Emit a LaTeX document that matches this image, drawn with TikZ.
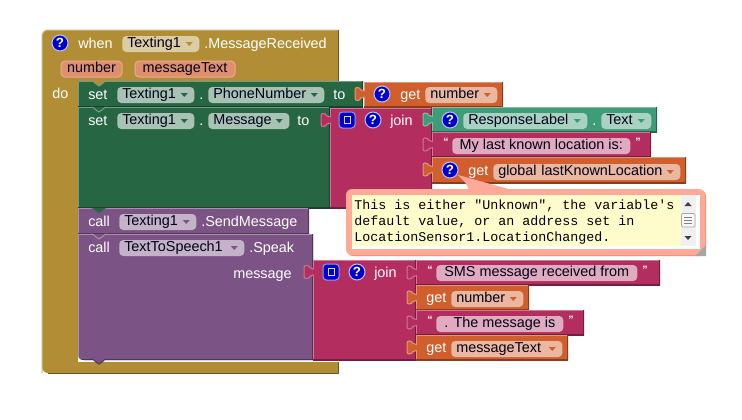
\documentclass[tikz,border=0pt]{standalone}
\usepackage{fontspec}
\setmainfont{Liberation Sans}
\setmonofont{Liberation Mono}
\usetikzlibrary{calc}
\definecolor{cBrown}{HTML}{B18E35}
\definecolor{cGreen}{HTML}{266643}
\definecolor{cTeal}{HTML}{3F9C78}
\definecolor{cOrange}{HTML}{D05F2D}
\definecolor{cPurple}{HTML}{7C5385}
\definecolor{cMagenta}{HTML}{B32D5E}
\definecolor{cBubble}{HTML}{FFA998}
\definecolor{cHelp}{HTML}{0000CC}
\definecolor{cArgFill}{HTML}{E08F6E}
\definecolor{cArgEdge}{HTML}{ECAB8F}

\begin{document}
\begin{tikzpicture}[
    x=0.75pt, y=-0.75pt,
    % ---------------------------------------------------------
    % BLOCK STYLES
    % ---------------------------------------------------------
    block/.style={
        fill=#1,
        path picture={
            \draw[#1!65!white, line width=1.5pt] (path picture bounding box.south west) -- (path picture bounding box.north west) -- (path picture bounding box.north east);
            \draw[#1!65!black, line width=1.5pt] (path picture bounding box.north east) -- (path picture bounding box.south east) -- (path picture bounding box.south west);
        }
    },
    knob/.style={
        fill=#1,
        draw=#1!65!white,
        line width=0.75pt
    },
    tabknob/.pic={
        \path[pic actions] (1,-3) -- (-3,-4) .. controls (-4,-6) and (-5,-6.5) .. (-7,-6.5) .. controls (-8.5,-6.5) and (-9,-5.5) .. (-9,-4) -- (-9,4) .. controls (-9,5.5) and (-8.5,6.5) .. (-7,6.5) .. controls (-5,6.5) and (-4,6) .. (-3,4) -- (1,3);
    },
    notch/.pic={
        \path[pic actions] (-8,0) .. controls (-6,0) and (-5,1) .. (-3,3) -- (0,5) -- (3,3) .. controls (5,1) and (6,0) .. (8,0);
    },
    % ---------------------------------------------------------
    % TEXT AND FIELD STYLES
    % ---------------------------------------------------------
    lbl/.style={
        anchor=base west,
        inner sep=0pt,
        text=white,
        font=\fontsize{10.8}{12}\selectfont
    },
    quotemark/.style={
        lbl,
        font=\fontsize{8}{9}\selectfont\bfseries
    },
    pill/.style={
        anchor=west,
        fill=#1,
        rounded corners=3pt,
        inner xsep=0pt,
        inner ysep=0pt,
        minimum height=12pt,
        text height=8pt,
        text depth=2.5pt,
        text=black!90!blue,
        font=\fontsize{10.8}{12}\selectfont
    },
    pillwide/.style={minimum width=#1*0.75pt},
    dropfield/.style 2 args={
        pill=#1,
        align=left,
        inner xsep=3.75pt,
        path picture={
            \fill[#2, sharp corners] ($(path picture bounding box.east)+(-13.5,-2)$) -- ++(7,0) -- ++(-3.5,4) -- cycle;
        }
    },
    dropwide/.style={text width={(#1-10)*0.75pt}},
    helpmark/.style={
        circle,
        fill=cHelp,
        draw=white!75!cHelp,
        line width=0.75pt,
        minimum size=12pt,
        inner sep=0pt,
        text=white,
        font=\fontsize{10}{10}\selectfont\bfseries
    },
    mutator/.style={
        rectangle,
        fill=cHelp,
        draw=white!60!cHelp,
        rounded corners=2.5pt,
        line width=0.75pt,
        minimum size=12pt,
        inner sep=0pt,
        path picture={
            \draw[white!85!cHelp, line width=0.6pt, sharp corners] ($(path picture bounding box.center)+(-3,-3.5)$) rectangle ($(path picture bounding box.center)+(3,3.5)$);
        }
    }
]
\useasboundingbox (0,0) rectangle (742,419);

% ---------------------------------------------------------
% 1. EVENT BLOCK
% ---------------------------------------------------------
\fill[cBrown, rounded corners=4.5pt] (338,30) -- (42,30) -- (42,373) [sharp corners] -- (338,373) -- (338,362) -- (78,362) -- (78,81) -- (338,81) -- cycle;
\draw[cBrown!65!white, line width=0.75pt, rounded corners=4.5pt] (42,373) -- (42,30) -- (338,30);
\draw[cBrown!60!black, line width=0.75pt] (338,30) -- (338,81) (338,362) -- (338,373) -- (48,373);

\node[helpmark] (helpWhen) at (60,43) {?};
\node[lbl] (lblWhen) at (78,48) {when};
\node[dropfield={cBrown!45!white}{cBrown}, dropwide=77] (fldWhen) at (122,44) {Texting1};
\node[lbl] (lblReceived) at (204,48) {.MessageReceived};
\node[pill=cArgFill, draw=cArgEdge, line width=0.75pt, pillwide=61] (argNumber) at (60.5,69) {number};
\node[pill=cArgFill, draw=cArgEdge, line width=0.75pt, pillwide=100] (argText) at (134.5,69) {messageText};
\node[lbl] (lblDo) at (52,98) {do};

% ---------------------------------------------------------
% 2. SET BLOCKS
% ---------------------------------------------------------
\path[block=cGreen] (78,81) rectangle (363,107);
\path[block=cGreen] (78,107) rectangle (330,208);
\pic[fill=cBrown, draw=cGreen!65!white, line width=0.75pt] at (99,81) {notch};
\pic[knob=cGreen] at (99,107) {notch};

\node[lbl] (lblSetA) at (88,99) {set};
\node[dropfield={cGreen!40!white}{cGreen}, dropwide=77] (fldSetA) at (117,95) {Texting1};
\node[lbl] (dotSetA) at (199,99) {.};
\node[dropfield={cGreen!40!white}{cGreen}, dropwide=116] (fldPhone) at (208,95) {PhoneNumber};
\node[lbl] (lblToA) at (333,99) {to};

\node[lbl] (lblSetB) at (88,125) {set};
\node[dropfield={cGreen!40!white}{cGreen}, dropwide=77] (fldSetB) at (117,121) {Texting1};
\node[lbl] (dotSetB) at (199,125) {.};
\node[dropfield={cGreen!40!white}{cGreen}, dropwide=81] (fldMessage) at (208,121) {Message};
\node[lbl] (lblToB) at (297,125) {to};

% ---------------------------------------------------------
% 3. VALUE BLOCKS OF THE SET BLOCKS
% ---------------------------------------------------------
\path[block=cOrange] (364,82) rectangle (503,107);
\pic[knob=cOrange] at (364,94) {tabknob};
\node[helpmark] (helpGetA) at (382,94) {?};
\node[lbl] (lblGetA) at (400,99) {get};
\node[dropfield={cOrange!45!white}{cOrange}, dropwide=72] (fldGetA) at (425,95) {number};

\path[block=cMagenta] (330,108) rectangle (432,208);
\pic[knob=cMagenta] at (330,120) {tabknob};
\node[mutator] (mutA) at (347,120) {};
\node[helpmark] (helpJoinA) at (373,120) {?};
\node[lbl] (lblJoinA) at (390,125) {join};

\path[block=cTeal] (432,107) rectangle (657,132);
\pic[knob=cTeal] at (432,119.5) {tabknob};
\node[helpmark] (helpLabel) at (450,120) {?};
\node[dropfield={cTeal!45!white}{cTeal}, dropwide=124] (fldLabel) at (463,121) {ResponseLabel};
\node[lbl] (dotLabel) at (592,125) {.};
\node[dropfield={cTeal!45!white}{cTeal}, dropwide=50] (fldProp) at (601,121) {Text};

\path[block=cMagenta] (432,132) rectangle (651,157);
\pic[knob=cMagenta] at (432,144.5) {tabknob};
\node[quotemark] (quoteA) at (443,145) {“};
\node[pill=cMagenta!40!white, pillwide=178] (strLocation) at (452,146) {My last known location is:};
\node[quotemark] (unquoteA) at (635,145) {”};

\path[block=cOrange] (432,157) rectangle (686,183);
\pic[knob=cOrange] at (432,169.5) {tabknob};
\node[helpmark] (helpGetB) at (450,170) {?};
\node[lbl] (lblGetB) at (468,175) {get};
\node[dropfield={cOrange!45!white}{cOrange}, dropwide=187] (fldGetB) at (493,172) {global lastKnownLocation};

% ---------------------------------------------------------
% 4. CALL BLOCKS
% ---------------------------------------------------------
\path[block=cPurple] (78,208) rectangle (309,234);
\path[block=cPurple] (78,234) -- (313,234) -- (313,360) -- (84,360) .. controls (80,360) and (78,358) .. (78,354) -- cycle;
\pic[fill=cGreen] at (99,208) {notch};
\pic[knob=cPurple] at (99,234) {notch};
\pic[fill=cPurple, draw=cPurple!65!black, line width=0.75pt] at (99,359) {notch};

\node[lbl] (lblCallA) at (88,226) {call};
\node[dropfield={cPurple!45!white}{cPurple}, dropwide=77] (fldCallA) at (119,222) {Texting1};
\node[lbl] (lblSend) at (201,226) {.SendMessage};

\node[lbl] (lblCallB) at (88,252) {call};
\node[dropfield={cPurple!45!white}{cPurple}, dropwide=125] (fldCallB) at (119,248) {TextToSpeech1};
\node[lbl] (lblSpeak) at (249,252) {.Speak};
\node[lbl] (lblMessage) at (233,278) {message};

% ---------------------------------------------------------
% 5. VALUE BLOCKS OF THE CALL BLOCK
% ---------------------------------------------------------
\path[block=cMagenta] (313,260) rectangle (416,360);
\pic[knob=cMagenta] at (313,272) {tabknob};
\node[mutator] (mutB) at (331,272) {};
\node[helpmark] (helpJoinB) at (357,272) {?};
\node[lbl] (lblJoinB) at (374,277) {join};

\path[block=cMagenta] (416,260) rectangle (660,285);
\pic[knob=cMagenta] at (416,272.5) {tabknob};
\node[quotemark] (quoteB) at (427,273) {“};
\node[pill=cMagenta!40!white, pillwide=201] (strSms) at (436,273) {SMS message received from};
\node[quotemark] (unquoteB) at (642,273) {”};

\path[block=cOrange] (416,285) rectangle (529,310);
\pic[knob=cOrange] at (416,297.5) {tabknob};
\node[lbl] (lblGetC) at (426,302) {get};
\node[dropfield={cOrange!45!white}{cOrange}, dropwide=72] (fldGetC) at (451,299) {number};

\path[block=cMagenta] (416,310) rectangle (584,335);
\pic[knob=cMagenta] at (416,322.5) {tabknob};
\node[quotemark] (quoteC) at (427,323) {“};
\node[pill=cMagenta!40!white, pillwide=127] (strIs) at (436,324) {. The message is};
\node[quotemark] (unquoteC) at (568,323) {”};

\path[block=cOrange] (416,335) rectangle (568,360);
\pic[knob=cOrange] at (416,347.5) {tabknob};
\node[lbl] (lblGetD) at (426,352) {get};
\node[dropfield={cOrange!45!white}{cOrange}, dropwide=111] (fldGetD) at (451,349) {messageText};

% ---------------------------------------------------------
% 6. COMMENT BUBBLE
% ---------------------------------------------------------
\fill[cBubble!70!cOrange, rounded corners=4.5pt] (347,190) rectangle (706,256);
\fill[cBubble, rounded corners=4.5pt] (346,189) rectangle (705,255);
\fill[cBubble] (458,175) .. controls (466,183) .. (469,190) -- (512,190) .. controls (485,182) .. (458,175);
\fill[white] (352,195) rectangle (700,249);
\fill[yellow!20!white] (352,195) rectangle (681,246);
\fill[black!6] (681,195) rectangle (696,246);
\fill[black!75] (684.5,206) -- (691.5,206) -- (688,202) -- cycle;
\fill[black!75] (684.5,236) -- (691.5,236) -- (688,240) -- cycle;
\draw[black!35, fill=black!3, rounded corners=1pt, line width=0.5pt] (681.5,213.5) rectangle (695,227);
\draw[black!50, line width=0.5pt] (684,217) -- (692,217) (684,220) -- (692,220) (684,223) -- (692,223);
\fill[black!35] (695,256) -- (706,245) -- (706,256) -- cycle;

\node[lbl, text=black, font=\ttfamily\fontsize{10}{12}\selectfont] (noteA) at (354,209) {This is either "Unknown", the variable's};
\node[lbl, text=black, font=\ttfamily\fontsize{10}{12}\selectfont] (noteB) at (354,225) {default value, or an address set in};
\node[lbl, text=black, font=\ttfamily\fontsize{10}{12}\selectfont] (noteC) at (354,241) {LocationSensor1.LocationChanged.};

\end{tikzpicture}
\end{document}
